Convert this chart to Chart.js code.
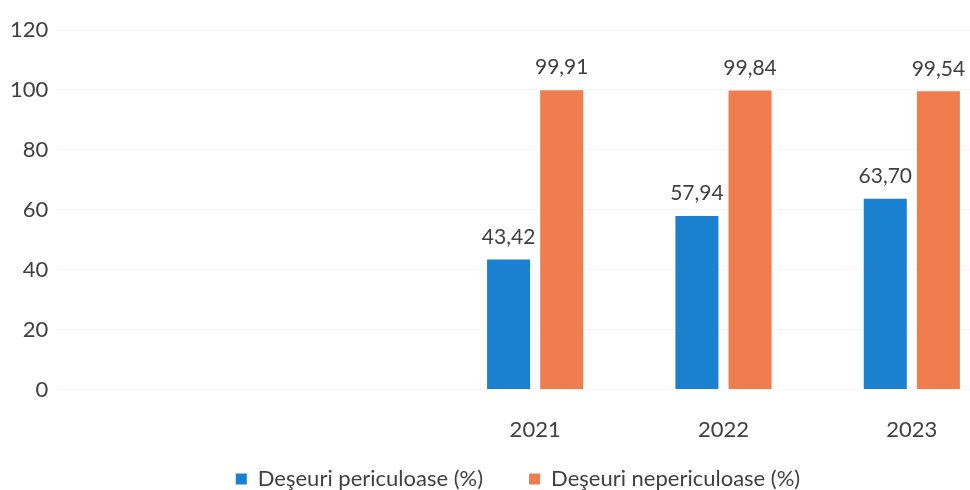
<!DOCTYPE html>
<html>
<head>
<meta charset="utf-8">
<script src="https://cdn.jsdelivr.net/npm/chart.js@4"></script>
<style>
  html, body { margin: 0; padding: 0; background: #fff; overflow: hidden; }
  #wrap { width: 1006px; height: 490px; }
</style>
</head>
<body>
<div id="wrap"><canvas id="chart"></canvas></div>
<script>
// categories (the first two are empty in the original)
const years = ["", "", "2021", "2022", "2023"];
const periculoase = [null, null, 43.42, 57.94, 63.70];
const nepericuloase = [null, null, 99.91, 99.84, 99.54];
const yTicks = [0, 20, 40, 60, 80, 100, 120];

const textColor = "#404040";
const fontFamily = "Lato, 'Open Sans', sans-serif";

// writes the value on top of every bar, with a comma as decimal mark
const valueLabels = {
  id: "valueLabels",
  afterDatasetsDraw(chart) {
    const ctx = chart.ctx;
    ctx.save();
    ctx.font = "21px " + fontFamily;
    ctx.fillStyle = textColor;
    ctx.textAlign = "center";
    ctx.textBaseline = "bottom";
    chart.data.datasets.forEach((ds, i) => {
      chart.getDatasetMeta(i).data.forEach((bar, j) => {
        const v = ds.data[j];
        if (v == null) return;
        ctx.fillText(v.toFixed(2).replace(".", ","), bar.x, bar.y - 12);
      });
    });
    ctx.restore();
  },
};

// the legend sits a bit right of the centre in the original
const legendShift = {
  id: "legendShift",
  afterLayout(chart) {
    chart.legend.left += 14;
    chart.legend.right += 14;
  },
};

new Chart(document.getElementById("chart"), {
  type: "bar",
  data: {
    labels: years,
    datasets: [
      {
        label: "Deşeuri periculoase (%)",
        data: periculoase,
        backgroundColor: "#1a80d0",
        categoryPercentage: 0.564,
        barPercentage: 0.81,
      },
      {
        label: "Deşeuri nepericuloase (%)",
        data: nepericuloase,
        backgroundColor: "#f07d4e",
        categoryPercentage: 0.564,
        barPercentage: 0.81,
      },
    ],
  },
  options: {
    responsive: true,
    maintainAspectRatio: false,
    animation: false,
    layout: { padding: { top: 30, left: 2, right: 0, bottom: -10 } },
    plugins: {
      legend: {
        position: "bottom",
        labels: {
          boxWidth: 11,
          boxHeight: 11,
          padding: 2,
          color: textColor,
          font: { size: 22, family: fontFamily },
          // a little extra room after the first item, as in the original
          generateLabels: (chart) => {
            const items = Chart.defaults.plugins.legend.labels.generateLabels(chart);
            items[0].text += "\u2003\u2003\u2002";
            return items;
          },
        },
      },
      tooltip: { enabled: false },
    },
    scales: {
      x: {
        grid: { display: false },
        border: { display: false },
        ticks: {
          color: textColor,
          padding: 19,
          font: { size: 22, family: fontFamily },
        },
        afterFit: (axis) => {
          axis.height += 4;
        },
      },
      y: {
        min: 0,
        max: 120,
        afterBuildTicks: (axis) => {
          axis.ticks = yTicks.map((v) => ({ value: v }));
        },
        grid: { color: "#f6f6f6" },
        border: { display: false },
        ticks: {
          color: textColor,
          padding: 8,
          font: { size: 22, family: fontFamily },
        },
      },
    },
  },
  plugins: [valueLabels, legendShift],
});
</script>
</body>
</html>
